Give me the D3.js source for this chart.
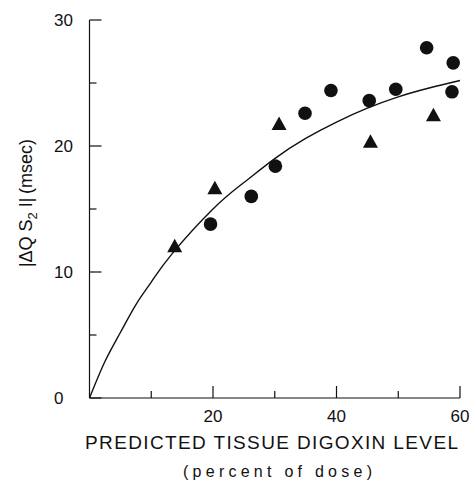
<!DOCTYPE html>
<html>
<head>
<meta charset="utf-8">
<script src="https://cdn.jsdelivr.net/npm/d3@7"></script>
<style>
  html, body { margin: 0; padding: 0; background: #fff; }
  svg { display: block; }
  text { font-family: "Liberation Sans", Arial, sans-serif; fill: #111; }
</style>
</head>
<body>
<svg id="chart" width="474" height="484"></svg>
<script>
// ---- data ----
const circleX = [19.6, 26.2, 30.1, 34.9, 39.1, 45.3, 49.6, 54.6, 58.9, 58.7];
const circleY = [13.8, 16.0, 18.4, 22.6, 24.4, 23.6, 24.5, 27.8, 26.6, 24.3];
const triangleX = [13.8, 20.3, 30.7, 45.5, 55.7];
const triangleY = [12.1, 16.7, 21.8, 20.4, 22.5];
// fitted curve as drawn in the figure
const curveX = [0, 2.5, 5, 7.5, 10, 13.3, 20, 25, 30, 35, 40, 45, 50, 55, 60];
const curveY = [0, 2.9, 5.2, 7.4, 9.2, 11.4, 15.0, 17.1, 19.0, 20.6, 21.9, 23.0, 23.9, 24.6, 25.2];
const xTickValues = [10, 20, 30, 40, 50, 60];
const xTickLabels = ["", "20", "", "40", "", "60"];
const yTickValues = [0, 5, 10, 15, 20, 25, 30];
const yTickLabels = ["0", "", "10", "", "20", "", "30"];
const xTitle = "PREDICTED TISSUE DIGOXIN LEVEL";
const xSubtitle = "(percent of dose)";

const svg = d3.select("#chart");
const x = d3.scaleLinear().domain([0, 60]).range([89.5, 460]);
const y = d3.scaleLinear().domain([0, 30]).range([398, 20]);
const ink = "#111";

// y axis (ticks pointing inward / right)
const gy = svg.append("g").attr("transform", `translate(${x(0)},0)`);
gy.append("line").attr("x1", 0).attr("x2", 0).attr("y1", y(0)).attr("y2", y(30))
  .attr("stroke", ink).attr("stroke-width", 1.2);
yTickValues.forEach((v, i) => {
  const major = yTickLabels[i] !== "";
  gy.append("line").attr("x1", 0).attr("x2", major ? 12 : 7)
    .attr("y1", y(v)).attr("y2", y(v)).attr("stroke", ink).attr("stroke-width", 1.2);
  if (major) {
    svg.append("text").attr("x", 54).attr("y", y(v)).attr("dy", "0.36em")
      .attr("font-size", 17).attr("text-anchor", "start").text(yTickLabels[i]);
  }
});

// x axis (ticks pointing up)
const gx = svg.append("g");
gx.append("line").attr("x1", x(0)).attr("x2", x(60)).attr("y1", y(0)).attr("y2", y(0))
  .attr("stroke", ink).attr("stroke-width", 1.2);
xTickValues.forEach((v, i) => {
  const major = xTickLabels[i] !== "";
  gx.append("line").attr("x1", x(v)).attr("x2", x(v))
    .attr("y1", y(0)).attr("y2", y(0) - (major ? 12 : 7))
    .attr("stroke", ink).attr("stroke-width", 1.2);
  if (major) {
    svg.append("text").attr("x", x(v)).attr("y", 422)
      .attr("font-size", 17).attr("text-anchor", "middle").text(xTickLabels[i]);
  }
});

// axis titles
svg.append("text").attr("x", 85).attr("y", 449).attr("font-size", 19)
  .attr("textLength", 373).attr("lengthAdjust", "spacing").text(xTitle);
svg.append("text").attr("x", 183).attr("y", 477).attr("font-size", 16)
  .attr("textLength", 189).attr("lengthAdjust", "spacing").text(xSubtitle);

const yl = svg.append("text")
  .attr("transform", "translate(32,203) rotate(-90)")
  .attr("text-anchor", "middle").attr("font-size", 18);
yl.append("tspan").text("|\u0394Q S");
yl.append("tspan").attr("font-size", 13).attr("dy", 5).text("2");
yl.append("tspan").attr("dy", -5).text(" I|\u2009(msec)");

// curve
const line = d3.line().x((d, i) => x(curveX[i])).y((d, i) => y(curveY[i]))
  .curve(d3.curveNatural);
svg.append("path").datum(curveY).attr("d", line)
  .attr("fill", "none").attr("stroke", ink).attr("stroke-width", 1.4);

// circles
svg.selectAll("circle.pt").data(circleX).enter().append("circle")
  .attr("class", "pt")
  .attr("cx", (d) => x(d)).attr("cy", (d, i) => y(circleY[i]))
  .attr("r", 6.8).attr("fill", ink);

// triangles
const tw = 15, th = 13.5;
svg.selectAll("path.tri").data(triangleX).enter().append("path")
  .attr("class", "tri")
  .attr("transform", (d, i) => `translate(${x(d)},${y(triangleY[i])})`)
  .attr("d", `M0,${-th / 2}L${tw / 2},${th / 2}L${-tw / 2},${th / 2}Z`)
  .attr("fill", ink);
</script>
</body>
</html>
